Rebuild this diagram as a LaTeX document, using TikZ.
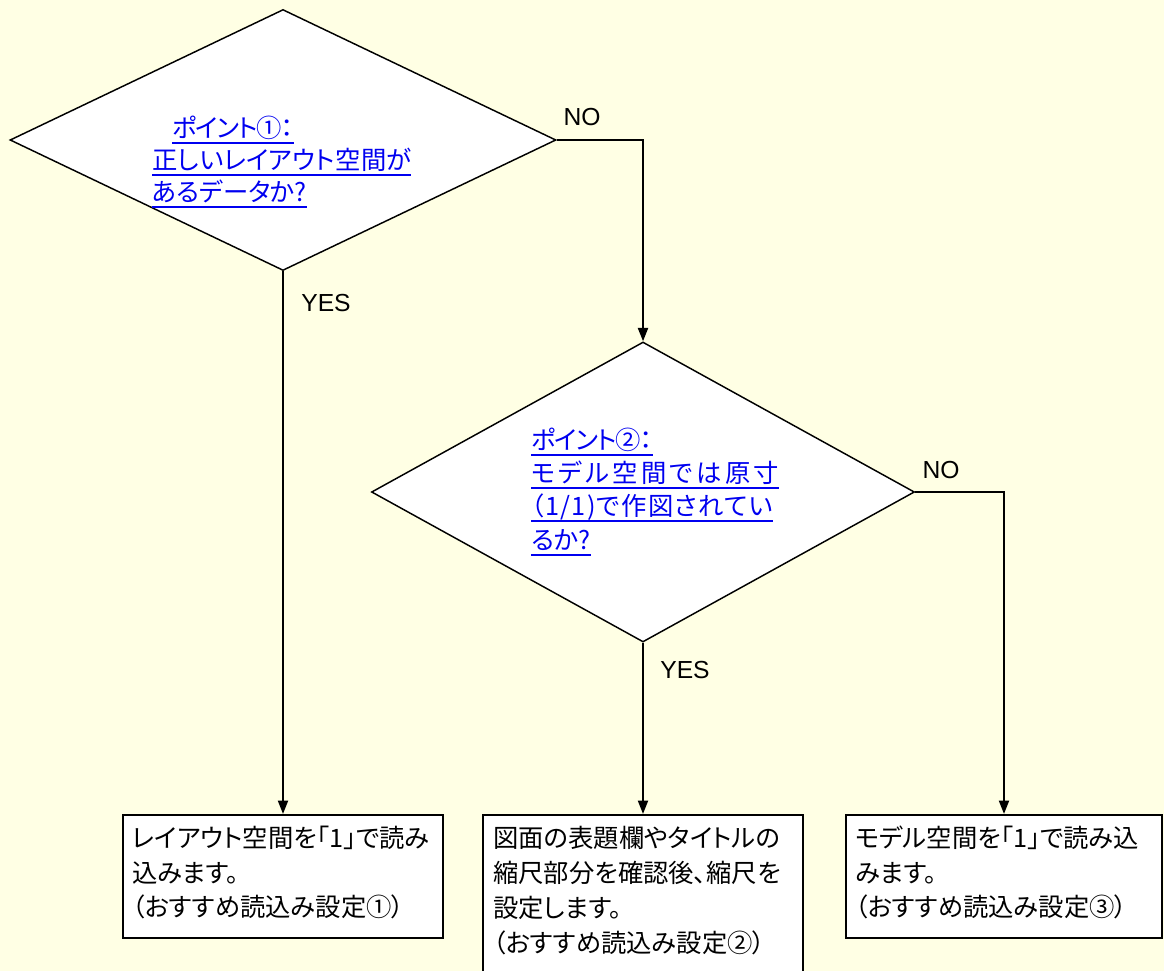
\documentclass[tikz,border=0pt]{standalone}
\usepackage{fontspec}
\setmainfont{Noto Sans CJK JP}[RawFeature=+palt]
\newfontfamily\latfont{Liberation Sans}
\usetikzlibrary{shapes.geometric,arrows.meta}
\definecolor{bgyellow}{HTML}{FFFFE4}
\definecolor{linkblue}{HTML}{0000F0}
\newcommand\ulx[1]{\setbox0\hbox{#1}\rlap{\color{linkblue}\rule[-5pt]{\wd0}{1.3pt}}\box0}
\tikzset{
  decision/.style={shape=diamond, draw=black, fill=white, line width=1.1pt, inner sep=0pt},
  result/.style={shape=rectangle, draw=black, fill=white, line width=1.6pt, inner sep=0pt},
  flow/.style={line width=1.5pt, -{Triangle[length=10pt,width=7.5pt]}},
  boxtxt/.style={anchor=base west, inner sep=0pt, font=\fontsize{19pt}{21pt}\selectfont},
  linktxt/.style={anchor=base west, inner sep=0pt, text=linkblue, font=\fontsize{19pt}{21pt}\selectfont},
  yesno/.style={inner sep=0pt, font=\latfont\fontsize{18.5pt}{20pt}\selectfont},
}
\begin{document}
\begin{tikzpicture}[x=0.75pt,y=-0.75pt]
\fill[bgyellow] (0,0) rectangle (1164,971);
\useasboundingbox (0,0) rectangle (1164,971);

% decisions
\node[decision, minimum width=409.5pt, minimum height=195.75pt] (d1) at (283,140) {};
\node[decision, minimum width=407.25pt, minimum height=225pt] (d2) at (643,492) {};

% results
\node[result, minimum width=240pt, minimum height=92.25pt] (b1) at (283,876.5) {};
\node[result, minimum width=240pt, minimum height=123.75pt] (b2) at (643,897.5) {};
\node[result, minimum width=237pt, minimum height=92.25pt] (b3) at (1004,876.5) {};

% connectors
\draw[flow] (d1.south) -- (b1.north);
\draw[flow] (d1.east) -| (d2.north);
\draw[flow] (d2.south) -- (b2.north);
\draw[flow] (d2.east) -| (b3.north);

% labels
\node[yesno] (no1) at (582,117) {NO};
\node[yesno] (yes1) at (326,303) {YES};
\node[yesno] (no2) at (941,470) {NO};
\node[yesno] (yes2) at (685,670) {YES};

% decision texts
\node[linktxt] (d1l1) at (172,137) {\ulx{\addfontfeature{LetterSpace=-4}ポイント①：}};
\node[linktxt] (d1l2) at (152,169) {\ulx{\addfontfeature{LetterSpace=1}正しいレイアウト空間が}};
\node[linktxt] (d1l3) at (152,201) {\ulx{あるデータか?}};

\node[linktxt] (d2l1) at (531,449) {\ulx{\addfontfeature{LetterSpace=-4}ポイント②：}};
\node[linktxt] (d2l2) at (531,482) {\ulx{\addfontfeature{LetterSpace=13}モデル空間では原寸}};
\node[linktxt] (d2l3) at (531,515) {\ulx{\addfontfeature{LetterSpace=5}（1/1)で作図されてい}};
\node[linktxt] (d2l4) at (531,549) {\ulx{るか?}};

% box texts
\node[boxtxt] (b1l1) at (132,847) {レイアウト空間を「1」で読み};
\node[boxtxt] (b1l2) at (132,882) {込みます。};
\node[boxtxt] (b1l3) at (132,916) {（おすすめ読込み設定①）};

\node[boxtxt] (b2l1) at (493,847) {図面の表題欄やタイトルの};
\node[boxtxt] (b2l2) at (493,882) {縮尺部分を確認後、縮尺を};
\node[boxtxt] (b2l3) at (493,917) {設定します。};
\node[boxtxt] (b2l4) at (493,952) {（おすすめ読込み設定②）};

\node[boxtxt] (b3l1) at (855,847) {モデル空間を「1」で読み込};
\node[boxtxt] (b3l2) at (855,882) {みます。};
\node[boxtxt] (b3l3) at (855,916) {（おすすめ読込み設定③）};
\end{tikzpicture}
\end{document}
